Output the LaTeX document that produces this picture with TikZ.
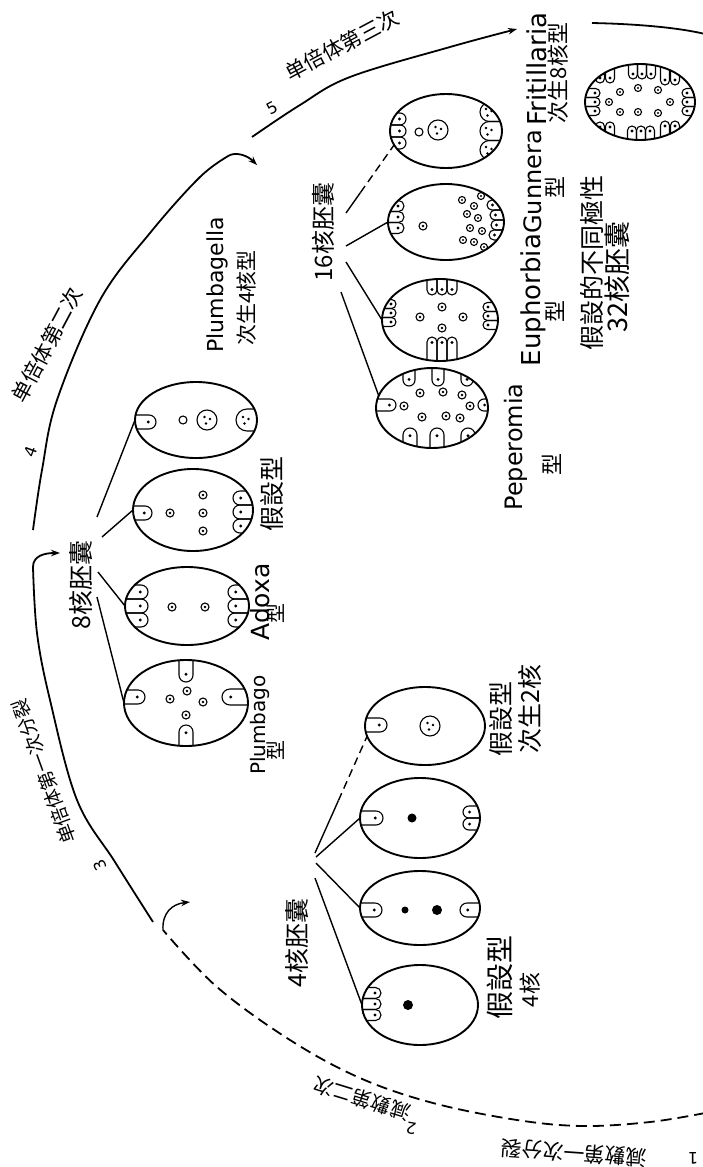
\documentclass[tikz,border=0pt]{standalone}
\usepackage{fontspec}
\setmainfont{DejaVu Sans}
\newfontfamily\cjk{Noto Sans CJK SC}
\usetikzlibrary{shapes.geometric,arrows.meta,calc}

\tikzset{
  sac/.style={draw, ellipse, line width=1.9pt, inner sep=0pt, outer sep=0pt},
  cellline/.style={line width=1.1pt},
  wire/.style={line width=1.4pt},
  flow/.style={line width=1.8pt},
  brokenwire/.style={wire, dash pattern=on 8pt off 5pt},
  brokenflow/.style={flow, dash pattern=on 11pt off 6pt},
  arrowend/.style={-{Stealth[length=9pt,width=6.5pt]}},
  lat/.style={font=\fontsize{#1}{#1}\selectfont, inner sep=0pt},
  han/.style={font=\cjk\fontsize{#1}{#1}\selectfont, inner sep=0pt},
}

% U-shaped cell standing on the sac wall; its tip points at angle #3
\newcommand\embUe[4]{%
  \begin{scope}[shift={(#1,#2)}, rotate=#3]
    \draw[cellline] (-30,-#4) -- (0,-#4) arc[start angle=-90, end angle=90, radius=#4] -- (-30,#4);
  \end{scope}}
% the same cell with its nucleus
\newcommand\embU[4]{%
  \embUe{#1}{#2}{#3}{#4}%
  \begin{scope}[shift={(#1,#2)}, rotate=#3]
    \fill (-0.1*#4,0) circle (1.6);
  \end{scope}}
% free nucleus with nucleolus
\newcommand\embN[2]{\draw[cellline] (#1,#2) circle (4); \fill (#1,#2) circle (1.4);}
\newcommand\embNs[2]{\draw[cellline] (#1,#2) circle (3.5); \fill (#1,#2) circle (1.1);}
% three small nuclei
\newcommand\embDots[2]{\fill (#1-3,#2-3) circle (1.4) (#1+2.5,#2-1) circle (1.4) (#1-1.5,#2+3.5) circle (1.4);}
% large fusion nucleus
\newcommand\embBig[2]{\draw[cellline] (#1,#2) circle (10); \embDots{#1+0.5}{#2}}
% sac outline as a named node
\newcommand\embSac[5]{\node[sac, minimum width=2*#4, minimum height=2*#5] (#1) at (#2,#3) {};}

\begin{document}
\begin{tikzpicture}[x=1pt, y=-1pt]
\fill[white] (0,0) rectangle (703,1167);
\useasboundingbox (0,0) rectangle (703,1167);

% ================= 8-nucleate sacs =================
\begin{scope}
  \clip (196,420) ellipse [x radius=61, y radius=38];
  \embU{149}{422}{0}{7}
  \draw[cellline] (183,420) circle (4);
  \embBig{207}{420}
  \embUe{247}{420}{180}{11}
  \embDots{246}{420}
\end{scope}
\embSac{p8a}{196}{420}{61}{38}

\begin{scope}
  \clip (193,510) ellipse [x radius=60, y radius=41];
  \embU{145}{513}{0}{7}
  \embN{170}{513}
  \embN{203}{495} \embN{203}{513} \embN{203}{531}
  \embU{240}{498}{180}{7} \embU{240}{512}{180}{7} \embU{240}{526}{180}{7}
\end{scope}
\embSac{p8b}{193}{510}{60}{41}

\begin{scope}
  \clip (187,606) ellipse [x radius=62, y radius=39];
  \embU{141}{592}{0}{7} \embU{141}{606}{0}{7} \embU{141}{620}{0}{7}
  \embN{172}{607} \embN{205}{607}
  \embU{235}{592}{180}{7} \embU{235}{606}{180}{7} \embU{235}{620}{180}{7}
\end{scope}
\embSac{p8c}{187}{606}{62}{39}

\begin{scope}
  \clip (186,703) ellipse [x radius=62, y radius=43];
  \embU{138}{697}{0}{7}
  \embU{186}{675}{-90}{7}
  \embU{186}{732}{90}{7}
  \embU{230}{697}{180}{8}
  \embN{187}{691} \embN{170}{699} \embN{203}{702} \embN{186}{715}
\end{scope}
\embSac{p8d}{186}{703}{62}{43}

% ================= 4-nucleate sacs =================
\begin{scope}
  \clip (425,726) ellipse [x radius=60, y radius=39];
  \embU{380}{725}{0}{7}
  \embBig{430}{726}
\end{scope}
\embSac{n4d}{425}{726}{60}{39}

\begin{scope}
  \clip (420,818) ellipse [x radius=60, y radius=40];
  \embU{376}{818}{0}{7}
  \fill (412,818) circle (4.5);
  \embU{469}{812}{180}{6} \embU{469}{824}{180}{6}
\end{scope}
\embSac{n4c}{420}{818}{60}{40}

\begin{scope}
  \clip (420,908) ellipse [x radius=60, y radius=37];
  \embU{375}{910}{0}{7}
  \fill (405,910) circle (3.5);
  \fill (437,910) circle (5);
  \embU{467}{910}{180}{7}
\end{scope}
\embSac{n4b}{420}{908}{60}{37}

\begin{scope}
  \clip (420,1005) ellipse [x radius=58, y radius=40];
  \embU{375.5}{993}{0}{5.5} \embU{375.5}{1004}{0}{5.5} \embU{375.5}{1015}{0}{5.5}
  \fill (408,1005) circle (5);
\end{scope}
\embSac{n4a}{420}{1005}{58}{40}

% ================= 16-nucleate sacs =================
\begin{scope}
  \clip (446,131) ellipse [x radius=56, y radius=37];
  \embU{400}{119}{0}{6} \embU{400}{131}{0}{6} \embU{400}{143}{0}{6}
  \draw[cellline] (419,132) circle (4);
  \embBig{438}{130}
  \embUe{489.5}{112}{180}{9.5} \embDots{489}{112}
  \embUe{489.5}{131}{180}{9.5} \embDots{489}{131}
  \embUe{489.5}{150}{180}{9.5} \embDots{489}{150}
\end{scope}
\embSac{f16a}{446}{131}{56}{37}

\begin{scope}
  \clip (446,222) ellipse [x radius=58, y radius=38];
  \embU{398.5}{206}{0}{5.5} \embU{398.5}{217}{0}{5.5} \embU{398.5}{228}{0}{5.5}
  \embN{423}{226}
  \embU{492}{205}{180}{5} \embU{495}{215}{180}{5} \embU{496}{225}{180}{5} \embU{494}{235}{180}{5}
  \embNs{462}{200} \embNs{474}{206} \embNs{481}{196} \embNs{467}{214}
  \embNs{478}{218} \embNs{470}{228} \embNs{482}{231} \embNs{463}{240}
  \embNs{474}{242} \embNs{484}{247}
\end{scope}
\embSac{f16b}{446}{222}{58}{38}

\begin{scope}
  \clip (440,320) ellipse [x radius=58, y radius=41];
  \embU{391.5}{304}{0}{4.5} \embU{391.5}{313}{0}{4.5} \embU{391.5}{322}{0}{4.5}
  \embU{432}{290}{-90}{5} \embU{442}{290}{-90}{5} \embU{452}{290}{-90}{5}
  \embU{432}{342}{90}{5} \embU{442}{342}{90}{5} \embU{452}{342}{90}{5}
  \embU{487.5}{307}{180}{4.5} \embU{487.5}{316}{180}{4.5} \embU{487.5}{325}{180}{4.5}
  \embN{420}{317} \embN{442}{307} \embN{463}{317} \embN{442}{328}
\end{scope}
\embSac{f16c}{440}{320}{58}{41}

\begin{scope}
  \clip (432,408) ellipse [x radius=56, y radius=40];
  \embU{409}{380}{-90}{6} \embU{438}{380}{-90}{6} \embU{467}{380}{-90}{6}
  \embU{410}{435}{90}{7} \embU{437}{435}{90}{7} \embU{468}{435}{90}{7}
  \embU{390}{405}{0}{6}
  \embU{484}{405}{180}{6}
  \embN{420}{393} \embN{443}{392} \embN{462}{395} \embN{404}{406}
  \embN{470}{406} \embN{422}{417} \embN{446}{416} \embN{460}{418}
\end{scope}
\embSac{f16d}{432}{408}{56}{40}

% ================= 32-nucleate sac =================
\begin{scope}
  \clip (640,102) ellipse [x radius=55, y radius=38];
  \embU{600}{78.5}{-90}{4.5} \embU{610}{78.5}{-90}{4.5}
  \embU{633}{74.5}{-90}{4.5} \embU{642}{74.5}{-90}{4.5} \embU{651}{74.5}{-90}{4.5}
  \embU{665}{80.5}{-90}{4.5} \embU{675}{80.5}{-90}{4.5}
  \embU{600}{126.5}{90}{4.5} \embU{610}{126.5}{90}{4.5}
  \embU{632}{130.5}{90}{4.5} \embU{641}{130.5}{90}{4.5} \embU{650}{130.5}{90}{4.5}
  \embU{665}{125.5}{90}{4.5} \embU{675}{125.5}{90}{4.5}
  \embU{595.5}{93}{0}{4.5} \embU{595.5}{102}{0}{4.5} \embU{595.5}{111}{0}{4.5}
  \embU{686.5}{93}{180}{4.5} \embU{686.5}{102}{180}{4.5} \embU{686.5}{111}{180}{4.5}
  \embNs{620}{92} \embNs{638}{88} \embNs{658}{90} \embNs{609}{102}
  \embNs{670}{102} \embNs{620}{112} \embNs{638}{112} \embNs{658}{113}
\end{scope}
\embSac{e32}{640}{102}{55}{38}

% ================= division arcs =================
\draw[brokenflow] plot[smooth, tension=0.6] coordinates
  {(705,1113) (650,1122) (583,1126) (517,1120) (433,1103) (360,1078) (290,1040) (217,987) (163,930)};
\draw[wire, arrowend] (163,930) .. controls (162,913) and (172,904) .. (190,902);

\draw[flow] plot[smooth, tension=0.6] coordinates
  {(153,922) (115,862) (77,800) (50,700) (37,633) (33,567)};
\draw[flow, arrowend] (33,567) .. controls (33,556) and (44,553) .. (60,553);

\draw[flow] plot[smooth, tension=0.6] coordinates
  {(33,530) (42,470) (57,400) (100,300) (150,233) (200,177) (230,155)};
\draw[flow, arrowend] (230,155) .. controls (238,152) and (248,156) .. (257,165);

\draw[flow, arrowend] plot[smooth, tension=0.6] coordinates
  {(252,137) (300,105) (350,77) (450,47) (517,29)};

\draw[flow] (592,23) .. controls (640,24) and (680,28) .. (705,34);

% arc labels
\node[han=19, rotate=110] (d3) at (44,772) {单倍体第一次分裂};
\node[lat=16, rotate=115] (k3) at (100,865) {3};
\node[han=21, rotate=62] (d4) at (47,345) {单倍体第二次};
\node[lat=16, rotate=70] (k4) at (31,452) {4};
\node[han=21, rotate=28] (d5) at (342,45) {单倍体第三次};
\node[lat=16, rotate=28] (k5) at (272,108) {5};
\node[han=20, rotate=163] (d2) at (362,1099) {減數第二次};
\node[lat=16, rotate=170] (k2) at (411,1128) {2};
\node[han=21, rotate=176] (d1) at (574,1153) {減數第一次分裂};
\node[lat=16, rotate=180] (k1) at (693,1158) {1};

% ================= group labels and fans =================
\node[han=25, rotate=90] (l8) at (81,585) {8核胚囊};
\coordinate (s8a) at (97,517);
\coordinate (s8b) at (102,537);
\coordinate (s8c) at (98,572);
\coordinate (s8d) at (97,597);
\draw[wire] (s8a) -- (p8a.west);
\draw[wire] (s8b) -- (p8b.west);
\draw[wire] (s8c) -- (p8c.west);
\draw[wire] (s8d) -- (p8d.west);

\node[han=24, rotate=90] (l16) at (323,232) {16核胚囊};
\coordinate (s16a) at (346,213);
\coordinate (s16b) at (346,246);
\coordinate (s16c) at (346,262);
\coordinate (s16d) at (341,292);
\draw[wire] (s16a) -- ($(s16a)!0.3!(f16a.195)$);
\draw[brokenwire] ($(s16a)!0.3!(f16a.195)$) -- (f16a.195);
\draw[wire] (s16b) -- (f16b.west);
\draw[wire] (s16c) -- (f16c.west);
\draw[wire] (s16d) -- (f16d.167);

\node[han=25, rotate=90] (l4) at (297,943) {4核胚囊};
\coordinate (s4a) at (315,853);
\coordinate (s4b) at (316,857);
\coordinate (s4c) at (316,863);
\coordinate (s4d) at (315,878);
\draw[wire] (s4a) -- ($(s4a)!0.45!(n4d.190)$);
\draw[brokenwire] ($(s4a)!0.45!(n4d.190)$) -- (n4d.190);
\draw[wire] (s4b) -- (n4c.west);
\draw[wire] (s4c) -- (n4b.west);
\draw[wire] (s4d) -- (n4a.west);

% ================= type names =================
\node[lat=20, rotate=90] (tPlumbago) at (260,725) {Plumbago};
\node[han=20, rotate=90] (tPlumbagoT) at (276,750) {型};
\node[lat=25, rotate=90] (tAdoxa) at (260,602) {Adoxa};
\node[han=20, rotate=90] (tAdoxaT) at (276,613) {型};
\node[han=25, rotate=90] (tHyp8) at (272,494) {假設型};
\node[lat=22, rotate=90] (tPlumbagella) at (217,285) {Plumbagella};
\node[han=21, rotate=90] (tPlumbagellaT) at (247,298) {次生4核型};

\node[lat=24, rotate=90] (tPeperomia) at (516,447) {Peperomia};
\node[han=22, rotate=90] (tPeperomiaT) at (552,464) {型};
\node[lat=26, rotate=90] (tEuphorbia) at (533,300) {Euphorbia};
\node[han=22, rotate=90] (tEuphorbiaT) at (555,311) {型};
\node[lat=24, rotate=90] (tGunnera) at (533,182) {Gunnera};
\node[han=22, rotate=90] (tGunneraT) at (555,187) {型};
\node[lat=26, rotate=90] (tFritillaria) at (537,69) {Fritillaria};
\node[han=22, rotate=90] (tFritillariaT) at (558,73) {次生8核型};

\node[han=25, rotate=90] (t32a) at (592,263) {假設的不同極性};
\node[han=27, rotate=90] (t32b) at (617,277) {32核胚囊};

\node[han=25, rotate=90] (tHyp2a) at (501,719) {假設型};
\node[han=25, rotate=90] (tHyp2b) at (530,709) {次生2核};
\node[han=28, rotate=90] (tHyp4a) at (500,977) {假設型};
\node[han=22, rotate=90] (tHyp4b) at (530,990) {4核};
\end{tikzpicture}
\end{document}
